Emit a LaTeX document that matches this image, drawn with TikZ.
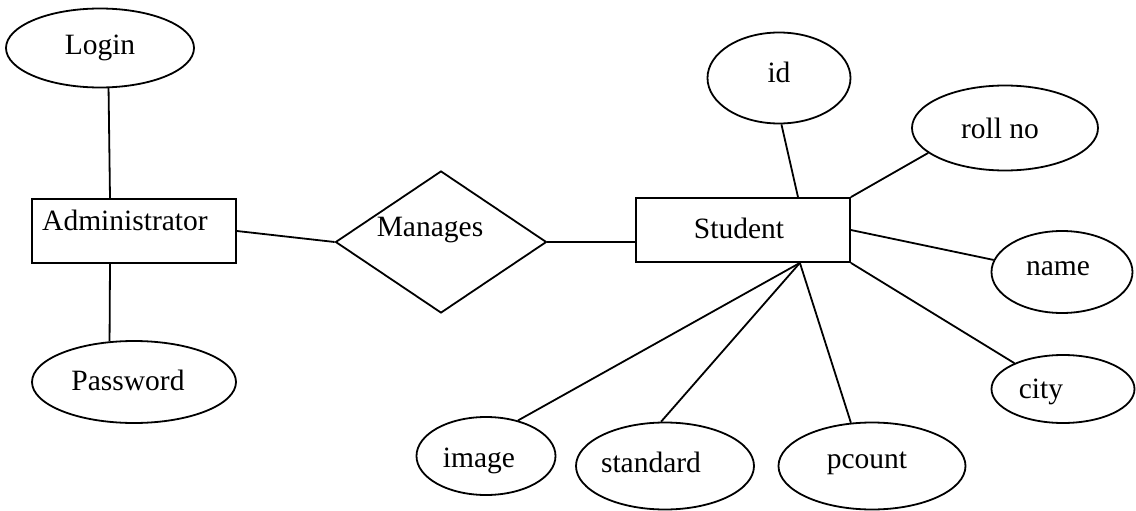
\documentclass[tikz,border=0pt]{standalone}
\usepackage{fontspec}
\setmainfont{Liberation Serif}
\usetikzlibrary{shapes.geometric}
\begin{document}
\begin{tikzpicture}[x=1pt,y=-1pt,
  every node/.style={font=\fontsize{29.5}{35}\selectfont},
  base/.style={draw, line width=1.8pt, inner sep=0pt},
  attr/.style={base, ellipse},
  entity/.style={base, rectangle},
  rel/.style={base, diamond},
  link/.style={line width=1.8pt}]
\useasboundingbox (0,0) rectangle (1136,511);
\node[attr, minimum width=188pt, minimum height=79pt, label={center:Login}] (login) at (100,48) {};
\node[entity, minimum width=204pt, minimum height=64pt, label={[xshift=-9pt,yshift=11pt]center:Administrator}] (admin) at (134,231) {};
\node[attr, minimum width=204pt, minimum height=82pt, label={[xshift=-6pt,yshift=2pt]center:Password}] (password) at (134,382) {};
\node[rel, minimum width=211pt, minimum height=142pt, label={[xshift=-11pt,yshift=12pt]center:Manages}] (manages) at (441,242) {};
\node[entity, minimum width=214pt, minimum height=64pt, label={[xshift=-4pt,yshift=2pt]center:Student}] (student) at (743,230) {};
\node[attr, minimum width=143pt, minimum height=91pt, label={[yshift=6pt]center:id}] (id) at (779,78) {};
\node[attr, minimum width=186pt, minimum height=85pt, label={[xshift=-5pt]center:roll no}] (roll) at (1005,128) {};
\node[attr, minimum width=141pt, minimum height=82pt, label={[xshift=-4pt,yshift=3pt]center:name}] (name) at (1062,272) {};
\node[attr, minimum width=143pt, minimum height=68pt, label={[xshift=-22pt,yshift=-3pt]center:city}] (city) at (1063,389) {};
\node[attr, minimum width=139pt, minimum height=78pt, label={[xshift=-7pt,yshift=-5pt]center:image}] (image) at (486,456) {};
\node[attr, minimum width=178pt, minimum height=87pt, label={[xshift=-14pt,yshift=4pt]center:standard}] (standard) at (665,466) {};
\node[attr, minimum width=187pt, minimum height=87pt, label={[xshift=-5pt,yshift=3pt]center:pcount}] (pcount) at (872,466) {};
\draw[link] (login.-78) -- ([xshift=-24pt]admin.north);
\draw[link] ([xshift=-24pt]admin.south) -- (password.121);
\draw[link] (admin.east) -- (manages.west);
\draw[link] (manages.east) -- ([yshift=-12pt]student.west);
\draw[link] (id.-87) -- ([xshift=55pt]student.north);
\draw[link] (roll.198) -- (student.north east);
\draw[link] (name.170) -- (student.east);
\draw[link] (city.152) -- (student.south east);
\draw[link] ([xshift=-51pt]student.south east) -- (image.48);
\draw[link] ([xshift=-51pt]student.south east) -- (standard.95);
\draw[link] ([xshift=-51pt]student.south east) -- (pcount.116);
\end{tikzpicture}
\end{document}
